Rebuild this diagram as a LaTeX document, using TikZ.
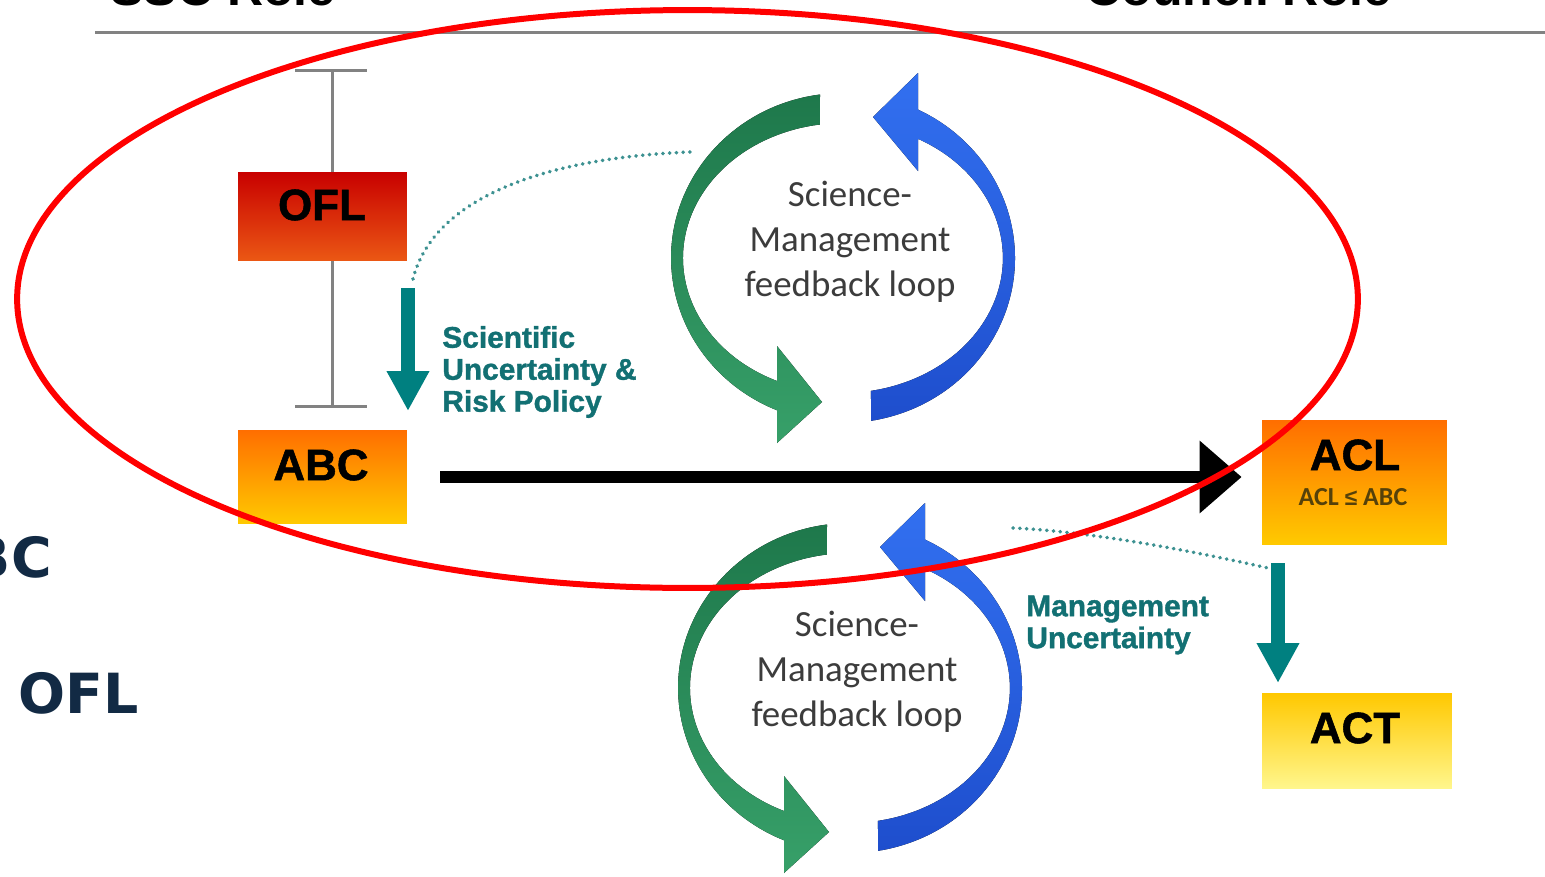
\documentclass[tikz,border=0pt]{standalone}
\usepackage{fontspec}
\setmainfont{Liberation Sans}
\newfontfamily\heavyfont[FakeBold=1.2]{Liberation Sans}
\newfontfamily\loopfont{Carlito}
\newfontfamily\navyfont{DejaVu Sans}
\usetikzlibrary{arrows.meta}
\definecolor{ofltop}{RGB}{200,0,0}
\definecolor{oflbot}{RGB}{235,88,20}
\definecolor{orgtop}{RGB}{255,110,0}
\definecolor{orgbot}{RGB}{255,202,0}
\definecolor{acttop}{RGB}{255,200,0}
\definecolor{actbot}{RGB}{255,246,140}
\definecolor{tealarr}{RGB}{0,128,128}
\definecolor{tealtext}{RGB}{18,112,115}
\definecolor{dotteal}{RGB}{60,145,145}
\definecolor{loopgray}{RGB}{60,60,60}
\definecolor{greentop}{RGB}{30,120,75}
\definecolor{greenbot}{RGB}{55,160,105}
\definecolor{bluetop}{RGB}{50,112,240}
\definecolor{bluebot}{RGB}{30,78,205}
\definecolor{navy}{RGB}{18,42,68}
\definecolor{barray}{RGB}{130,130,130}
\definecolor{aclnotec}{RGB}{85,65,10}
\definecolor{ringred}{RGB}{255,0,0}
\begin{document}
\begin{tikzpicture}[x=0.02cm,y=0.02cm,
  boxstyle/.style={draw=none,minimum width=3.38cm,inner sep=0pt},
  boxtext/.style={font=\heavyfont\fontsize{25pt}{30pt}\selectfont\bfseries,text=black,inner sep=0pt},
  teallabel/.style={font=\heavyfont\fontsize{17pt}{18.2pt}\selectfont\bfseries,text=tealtext,align=left,inner sep=0pt},
  looptext/.style={font=\loopfont\fontsize{21pt}{25.6pt}\selectfont,text=loopgray,align=center,inner sep=0pt},
  headtext/.style={font=\fontsize{28.5pt}{34pt}\selectfont\bfseries,text=black,inner sep=0pt},
  navytext/.style={font=\navyfont\fontsize{31.5pt}{36pt}\selectfont\bfseries,text=navy,inner sep=0pt},
  dotline/.style={draw=dotteal,line width=0.075cm,line cap=round,dash pattern=on 0.005cm off 0.13cm},
  tealarrow/.style={draw=tealarr,line width=0.27cm,-{Triangle[length=0.8cm,width=0.8cm]}},
  bigarrow/.style={draw=black,line width=0.24cm,-{Triangle[length=0.84cm,width=1.4cm]}},
  errbar/.style={draw=barray,line width=0.06cm},
  greenband/.style={top color=greentop,bottom color=greenbot,draw=none},
  blueband/.style={top color=bluetop,bottom color=bluebot,draw=none},
  redring/.style={draw=ringred,line width=0.12cm}
]
\useasboundingbox (0,0) rectangle (1545,-876);
\fill[white] (0,0) rectangle (1545,-876);

% header
\node[headtext,anchor=base west] (ssc) at (110,-5) {SSC Role};
\node[headtext,anchor=base west] (council) at (1085,-5) {Council Role};
\coordinate (hl1) at (95,-32);
\coordinate (hl2) at (1545,-32);
\draw[errbar] (hl1) -- (hl2);

% left partial text
\node[navytext,anchor=base east] (leftbc) at (52,-577) {BC};
\node[navytext,anchor=base west] (leftofl) at (18,-713) {OFL};

% error bar
\coordinate (ebt) at (332,-70);
\coordinate (ebb) at (332,-406);
\draw[errbar] (ebt) -- (ebb);
\draw[errbar] ([xshift=-0.74cm]ebt) -- ([xshift=0.7cm]ebt);
\draw[errbar] ([xshift=-0.74cm]ebb) -- ([xshift=0.7cm]ebb);

% boxes
\node[boxstyle,minimum height=1.78cm,top color=ofltop,bottom color=oflbot] (ofl) at (322.5,-216.5) {};
\node[boxtext] (ofltxt) at (322,-205) {OFL};
\node[boxstyle,minimum height=1.88cm,top color=orgtop,bottom color=orgbot] (abc) at (322.5,-477) {};
\node[boxtext] (abctxt) at (321,-465) {ABC};
\node[boxstyle,minimum width=3.7cm,minimum height=2.5cm,top color=orgtop,bottom color=orgbot] (acl) at (1354.5,-482.5) {};
\node[boxtext] (acltxt) at (1355,-455) {ACL};
\node[font=\loopfont\fontsize{14.8pt}{17pt}\selectfont\bfseries,text=aclnotec,inner sep=0pt] (aclnote) at (1353,-497) {ACL {\rmfamily\fontsize{13pt}{15pt}\selectfont ≤} ABC};
\node[boxstyle,minimum width=3.8cm,minimum height=1.9cm,top color=acttop,bottom color=actbot] (act) at (1357,-740.5) {};
\node[boxtext] (acttxt) at (1355,-728) {ACT};

% main arrow
\draw[bigarrow] ([xshift=0.66cm]abc.east) -- ([xshift=-0.4cm]abc.east -| acl.west);

% teal arrows and dotted lines
\coordinate (t1s) at (408,-288);
\coordinate (t1e) at (408,-411);
\draw[tealarrow] (t1s) -- (t1e);
\coordinate (d1s) at (690,-152);
\coordinate (d1e) at (412,-283);
\draw[dotline] (d1s) .. controls (540,-158) and (430,-200) .. (d1e);

\coordinate (t2s) at (1278,-563);
\coordinate (t2e) at (1278,-683);
\draw[tealarrow] (t2s) -- (t2e);
\coordinate (d2s) at (1013,-528);
\coordinate (d2e) at (1268,-568);
\draw[dotline] (d2s) .. controls (1100,-532) and (1210,-555) .. (d2e);

% labels
\node[teallabel,anchor=west] (scilab) at (442,-372) {Scientific\\Uncertainty \&\\Risk Policy};
\node[teallabel,anchor=west] (mgmtlab) at (1026,-625) {Management\\Uncertainty};

% upper loop
\begin{scope}[shift={(843,-258)}]
\fill[greenband] (-23,163.5) arc[start angle=97.7,end angle=247.44,x radius=3.44cm,y radius=3.3cm]
  -- (-66,-185) -- (-21,-144) -- (-66,-88) -- (-66,-123)
  arc[start angle=245.64,end angle=98.3,x radius=3.2cm,y radius=2.7cm] -- cycle;
\fill[blueband] (28.1,-162.8) arc[start angle=-80.6,end angle=64.1,x radius=3.44cm,y radius=3.3cm]
  -- (75,185) -- (30,141) -- (75,87) -- (75,119.2)
  arc[start angle=62,end angle=-79.9,x radius=3.2cm,y radius=2.7cm] -- cycle;
\end{scope}
\node[looptext] (loop1txt) at (850,-242) {Science-\\Management\\feedback loop};

% lower loop
\begin{scope}[shift={(850,-688)}]
\fill[greenband] (-23,163.5) arc[start angle=97.7,end angle=247.44,x radius=3.44cm,y radius=3.3cm]
  -- (-66,-185) -- (-21,-144) -- (-66,-88) -- (-66,-123)
  arc[start angle=245.64,end angle=98.3,x radius=3.2cm,y radius=2.7cm] -- cycle;
\fill[blueband] (28.1,-162.8) arc[start angle=-80.6,end angle=64.1,x radius=3.44cm,y radius=3.3cm]
  -- (75,185) -- (30,141) -- (75,87) -- (75,119.2)
  arc[start angle=62,end angle=-79.9,x radius=3.2cm,y radius=2.7cm] -- cycle;
\end{scope}
\node[looptext] (loop2txt) at (857,-672) {Science-\\Management\\feedback loop};

% red annotation ellipse
\draw[redring] (687.5,-299) ellipse[x radius=13.41cm,y radius=5.78cm];
\end{tikzpicture}
\end{document}
